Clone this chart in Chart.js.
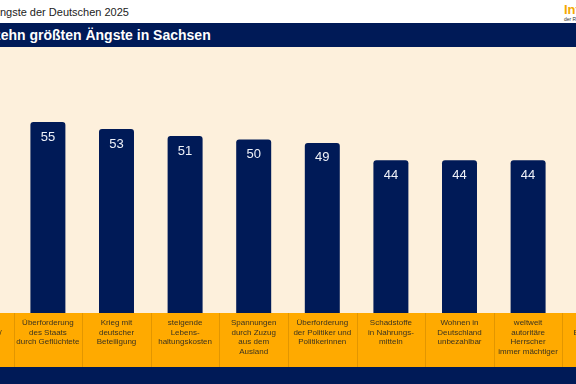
<!DOCTYPE html>
<html lang="de">
<head>
<meta charset="utf-8">
<script src="https://cdn.jsdelivr.net/npm/chart.js@4"></script>
<style>
  html, body { margin: 0; padding: 0; }
  body {
    width: 576px; height: 384px; overflow: hidden; position: relative;
    background: #001a57; font-family: "Liberation Sans", Arial, sans-serif;
  }
  #head { position: absolute; left: 0; top: 0; width: 576px; height: 23px; background: #fff; }
  #head .t { position: absolute; left: -27px; top: 6px; font-size: 11px; color: #222; white-space: nowrap; }
  #logo { position: absolute; left: 564px; top: 3px; white-space: nowrap; }
  #logo .a { font-size: 13px; font-weight: bold; color: #f5a800; line-height: 13px; }
  #logo .b { font-size: 5px; color: #333; line-height: 6px; }
  #band { position: absolute; left: 0; top: 23px; width: 576px; height: 24px; background: #001a57; }
  #band .t { position: absolute; left: -32px; top: 0; line-height: 24px; font-size: 14px; font-weight: bold; color: #fff; white-space: nowrap; }
  #chart { position: absolute; left: -55px; top: 47px; }
</style>
</head>
<body>
<div id="head">
  <div class="t">Die Ängste der Deutschen 2025</div>
  <div id="logo"><div class="a">Infocenter</div><div class="b">der R+V Versicherung</div></div>
</div>
<div id="band"><div class="t">Die zehn größten Ängste in Sachsen</div></div>
<canvas id="chart" width="686" height="320"></canvas>
<script>
// Die zehn größten Ängste in Sachsen (Angaben in Prozent)
const categories = [
    ["Steuer-", "erhöhungen/", "Leistungs-", "kürzungen"],
    ["Überforderung", "des Staats", "durch Geflüchtete"],
    ["Krieg mit", "deutscher", "Beteiligung"],
    ["steigende", "Lebens-", "haltungskosten"],
    ["Spannungen", "durch Zuzug", "aus dem", "Ausland"],
    ["Überforderung", "der Politiker und", "Politikerinnen"],
    ["Schadstoffe", "in Nahrungs-", "mitteln"],
    ["Wohnen in", "Deutschland", "unbezahlbar"],
    ["weltweit", "autoritäre", "Herrscher", "immer mächtiger"],
    ["politischer", "Extremismus"]
];
const values = [57, 55, 53, 51, 50, 49, 44, 44, 44, 43];

const NAVY = "#001a57";
const ORANGE = "#ffaa00";
const CREAM = "#fdf0dc";

// background: cream plot area, orange label band with dividers
const bandPlugin = {
    id: "band",
    beforeDraw(chart) {
        const { ctx, chartArea, scales } = chart;
        const x = scales.x;
        ctx.save();
        ctx.fillStyle = CREAM;
        ctx.fillRect(0, 0, chart.width, chartArea.bottom);
        ctx.fillStyle = ORANGE;
        ctx.fillRect(0, chartArea.bottom, chart.width, x.height);
        ctx.strokeStyle = "#e29600";
        ctx.lineWidth = 1;
        const step = x.width / categories.length;
        for (let i = 0; i <= categories.length; i++) {
            const px = Math.round(x.left + i * step) + 0.5;
            ctx.beginPath();
            ctx.moveTo(px, chartArea.bottom);
            ctx.lineTo(px, chartArea.bottom + x.height);
            ctx.stroke();
        }
        ctx.restore();
    }
};

// values written inside the top of each bar
const valuePlugin = {
    id: "values",
    afterDatasetsDraw(chart) {
        const { ctx } = chart;
        const meta = chart.getDatasetMeta(0);
        ctx.save();
        ctx.fillStyle = "#eef1f8";
        ctx.font = "13px 'Liberation Sans', Arial, sans-serif";
        ctx.textAlign = "center";
        ctx.textBaseline = "middle";
        meta.data.forEach((bar, i) => {
            ctx.fillText(values[i], bar.x, bar.y + 15);
        });
        ctx.restore();
    }
};

new Chart(document.getElementById("chart"), {
    type: "bar",
    data: {
        labels: categories,
        datasets: [{
            data: values,
            backgroundColor: NAVY,
            borderRadius: { topLeft: 3, topRight: 3 },
            borderSkipped: "bottom",
            barPercentage: 0.51,
            categoryPercentage: 1
        }]
    },
    options: {
        responsive: false,
        animation: false,
        layout: { padding: { top: 23, left: 0, right: 0, bottom: 0 } },
        plugins: { legend: { display: false }, tooltip: { enabled: false } },
        scales: {
            x: {
                border: { display: false },
                grid: { display: false, drawTicks: false },
                ticks: {
                    autoSkip: false,
                    maxRotation: 0,
                    padding: 5,
                    color: "#3a3320",
                    font: { family: "'Liberation Sans', Arial, sans-serif", size: 8, lineHeight: 1.2 }
                },
                afterFit(scale) { scale.height = 54; }
            },
            y: {
                display: false,
                min: 0,
                max: 70
            }
        }
    },
    plugins: [bandPlugin, valuePlugin]
});
</script>
</body>
</html>
